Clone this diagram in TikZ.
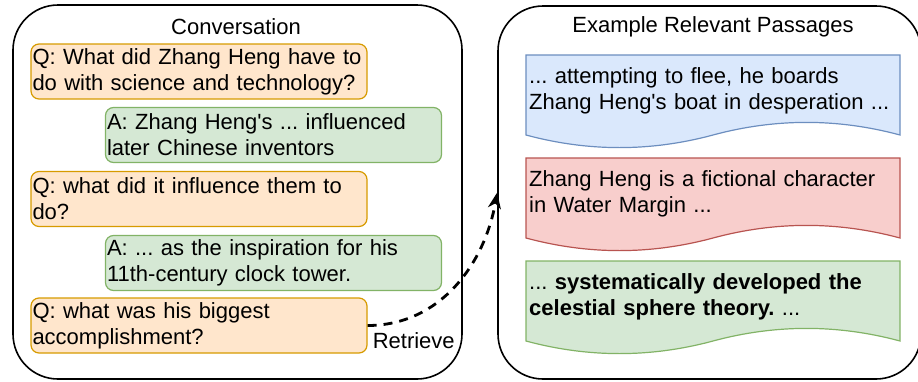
\documentclass[tikz,border=0pt]{standalone}
\usepackage{fontspec}
\setmainfont{Liberation Sans}
\usetikzlibrary{arrows.meta,positioning}
\definecolor{qfill}{HTML}{FFE6CC}
\definecolor{qline}{HTML}{D79B00}
\definecolor{afill}{HTML}{D5E8D4}
\definecolor{aline}{HTML}{82B366}
\definecolor{bfill}{HTML}{DAE8FC}
\definecolor{bline}{HTML}{6C8EBF}
\definecolor{rfill}{HTML}{F8CECC}
\definecolor{rline}{HTML}{B85450}
\frenchspacing
% wavy passage box, #1 top edge, #2 fill, #3 line
\newcommand{\docshape}[3]{%
  \filldraw[fill=#2,draw=#3,line width=1.2pt] (526,#1) -- (900,#1) -- (900,#1+80)
    .. controls (837.67,#1+63.2) and (775.33,#1+63.2) .. (713,#1+80)
    .. controls (650.67,#1+96.8) and (588.33,#1+96.8) .. (526,#1+80) -- cycle;}
\newcommand{\apo}{\textquotesingle}

\begin{document}
\begin{tikzpicture}[x=1pt,y=-1pt,
    font=\fontsize{22}{26}\selectfont,
    frame/.style={draw,line width=1.6pt,rounded corners=45pt},
    turn/.style={draw,line width=1.2pt,rounded corners=8pt,minimum height=55pt,
      text width=333pt,inner xsep=1.5pt,align=left},
    qbox/.style={turn,fill=qfill,draw=qline},
    abox/.style={turn,fill=afill,draw=aline},
    ptext/.style={anchor=west,text width=368pt,inner xsep=3pt,align=left}]
    \useasboundingbox (0,0) rectangle (918,381);
    % conversation
    \node[frame,minimum width=449pt,minimum height=374pt] (conv) at (237.5,192) {};
    \node (convtitle) at (236,27) {Conversation};
    \node[qbox] (q1) at (199,71.5) {Q: What did Zhang Heng have to\\do with science and technology?};
    \node[abox] (a1) at (273.5,135) {A: Zhang Heng\apo s ... influenced\\later Chinese inventors};
    \node[qbox] (q2) at (199,199) {Q: what did it influence them to\\do?};
    \node[abox] (a2) at (273.5,263) {A: ... as the inspiration for his\\11th-century clock tower.};
    \node[qbox] (q3) at (199,325.5) {Q: what was his biggest\\accomplishment?};
    \node[anchor=base west,inner sep=0pt] (retr) at ([xshift=5pt,yshift=5pt]q3.south east) {Retrieve};
    % passages
    \node[frame,minimum width=423pt,minimum height=373pt] (passages) at (709.5,192.5) {};
    \node (passtitle) at (713,27) {Example Relevant Passages};
    \docshape{55}{bfill}{bline}
    \node[ptext] (p1) at (526,91) {... attempting to flee, he boards\\Zhang Heng\apo s boat in desperation ...};
    \docshape{158}{rfill}{rline}
    \node[ptext] (p2) at (526,194) {Zhang Heng is a fictional character\\in Water Margin ...};
    \docshape{261}{afill}{aline}
    \node[ptext] (p3) at (526,296.5) {... \textbf{systematically developed the}\\\textbf{celestial sphere theory.} ...};
    \draw[line width=2.8pt,dash pattern=on 9pt off 7pt,-{Stealth[length=16pt,width=13pt,inset=5pt]}]
      (q3.east) to[out=0,in=-100] (passages.west);
\end{tikzpicture}
\end{document}
